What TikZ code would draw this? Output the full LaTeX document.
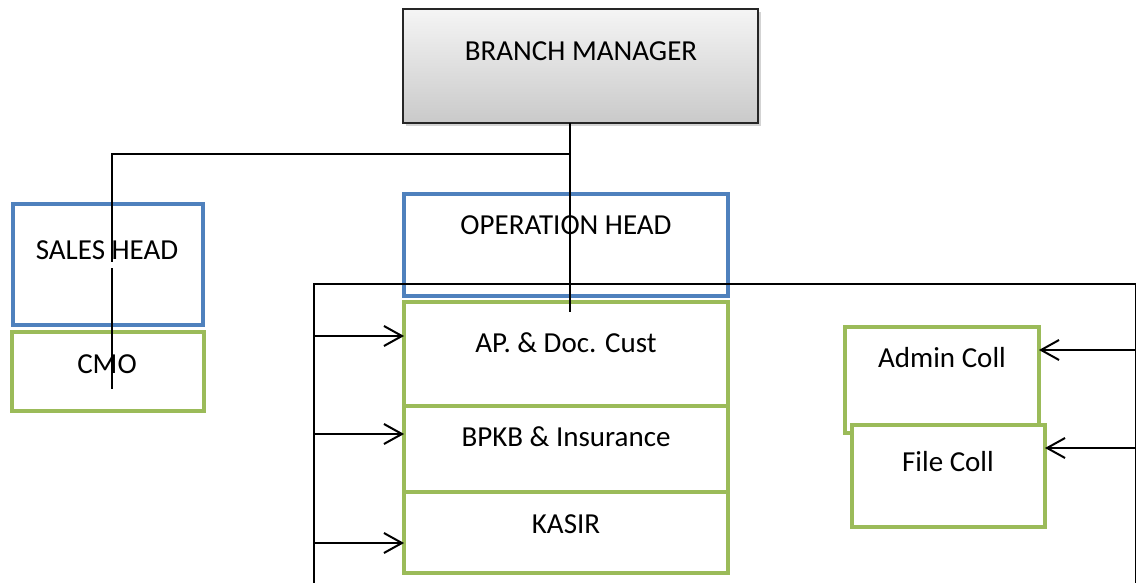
\documentclass[tikz,border=0pt]{standalone}
\usepackage{fontspec}
\setmainfont{Carlito}
\usetikzlibrary{arrows.meta,shadows}
\definecolor{headblue}{HTML}{4F81BD}
\definecolor{staffgreen}{HTML}{9BBB59}
\begin{document}
\begin{tikzpicture}[x=1pt,y=-1pt,
  box/.style={rectangle, draw, line width=4pt, inner sep=0pt, outer sep=0pt, fill=white},
  headbox/.style={box, draw=headblue},
  staffbox/.style={box, draw=staffgreen},
  lbl/.style={font=\fontsize{29}{34}\selectfont, inner sep=0pt, anchor=base},
  link/.style={line width=2pt, black},
  arr/.style={link, -{Straight Barb[length=18pt,width=20pt,line width=2pt]}}
]
\clip (0,0) rectangle (1136,583);

% top manager box with shading and shadow
\node[rectangle, draw=black!85, line width=1.6pt, inner sep=0pt, outer sep=0pt,
      top color=gray!8, bottom color=gray!42,
      drop shadow={shadow xshift=3pt, shadow yshift=-3pt, opacity=0.35},
      minimum width=355pt, minimum height=114pt] (bm) at (580.5,66) {};
\node[lbl] (bm-t) at (581,61) {BRANCH MANAGER};

% sales side
\node[headbox, minimum width=190pt, minimum height=121pt] (sales) at (108,264.5) {};
\node[staffbox, minimum width=192pt, minimum height=79pt] (cmo) at (108,371.5) {};
\node[lbl] (sales-t) at (107,259) {SALES HEAD};
\node[lbl] (cmo-t) at (107,373) {CMO};

% operation side
\node[headbox, minimum width=324pt, minimum height=102pt] (op) at (566,245) {};
\node[staffbox, minimum width=324pt, minimum height=104pt] (ap) at (566,354) {};
\node[staffbox, minimum width=324pt, minimum height=86pt] (bpkb) at (566,449) {};
\node[staffbox, minimum width=324pt, minimum height=81pt] (kasir) at (566,532.5) {};
\node[lbl] (op-t) at (566,234) {OPERATION HEAD};
\node[lbl] (ap-t) at (566,352) {AP. \& Doc. Cust};
\node[lbl] (bpkb-t) at (566,446) {BPKB \& Insurance};
\node[lbl] (kasir-t) at (566,533) {KASIR};

% collection boxes
\node[staffbox, minimum width=194pt, minimum height=106pt] (admin) at (942,380) {};
\node[staffbox, minimum width=193pt, minimum height=102pt] (file) at (948.5,476) {};
\node[lbl] (admin-t) at (942,367) {Admin Coll};
\node[lbl] (file-t) at (948,471) {File Coll};

% operations frame
\node[rectangle, draw, line width=1.6pt, inner sep=0pt, outer sep=0pt,
      minimum width=821.5pt, minimum height=336pt] (frame) at (724.75,452) {};

% reporting lines
\coordinate (hub) at (570,154);
\coordinate (opdrop) at (570,312);
\coordinate (salesdrop) at (112,389);
\draw[link] (bm.south -| hub) -- (opdrop);
\draw[link] (hub) -- (hub -| salesdrop) -- (112,262) (112,268) -- (salesdrop);

% arrows into the operation staff
\draw[arr] (frame.west |- 0,336) -- (ap.west |- 0,336);
\draw[arr] (frame.west |- 0,434) -- (bpkb.west |- 0,434);
\draw[arr] (frame.west |- 0,543) -- (kasir.west |- 0,543);

% arrows into the collection staff
\draw[arr] (frame.east |- 0,350) -- (admin.east |- 0,350);
\draw[arr] (frame.east |- 0,448) -- (file.east |- 0,448);
\end{tikzpicture}
\end{document}
